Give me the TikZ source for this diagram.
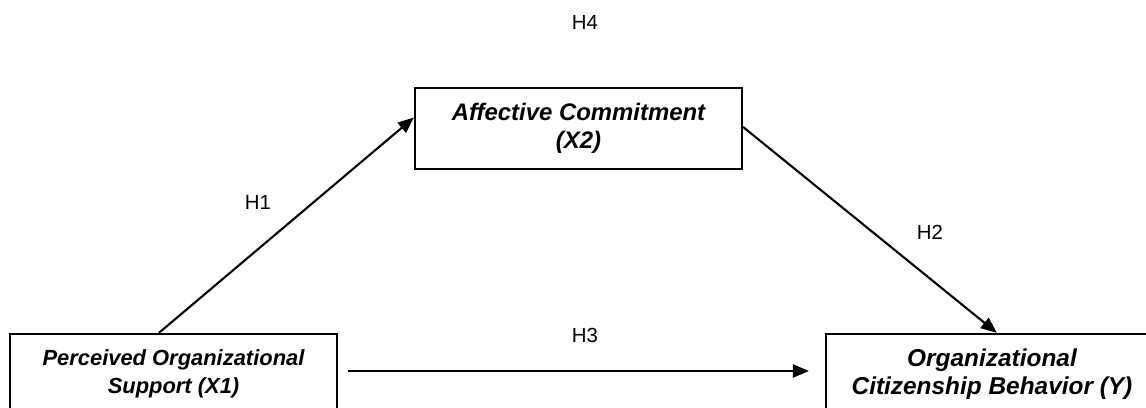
\documentclass[tikz,border=0pt]{standalone}
\usepackage{fontspec}
\setmainfont{Liberation Sans}
\usetikzlibrary{arrows.meta}
\begin{document}
\begin{tikzpicture}[x=1bp,y=-1bp,
  box/.style={draw, line width=2.2bp, align=center, inner sep=0pt},
  boxfont/.style={font=\fontsize{#1}{27.5}\selectfont\bfseries\itshape},
  conn/.style={line width=2.1bp, -{Triangle[length=16bp,width=13bp]}},
  lab/.style={font=\fontsize{20.5}{24}\selectfont, inner sep=0pt}]
\useasboundingbox (0,0) rectangle (1146,407);
\clip (0,0) rectangle (1146,407);
\node[box, boxfont=22, minimum width=327bp, minimum height=80bp] (L) at (173.5,374) {Perceived Organizational\\Support (X1)};
\node[box, boxfont=24, minimum width=327bp, minimum height=81bp] (A) at (578.5,128.5) {Affective Commitment\\(X2)};
\node[box, boxfont=24.5, minimum width=332bp, minimum height=80bp] (R) at (992,374) {Organizational\\Citizenship Behavior (Y)};
\coordinate (h1s) at ([xshift=150bp]L.north west);
\coordinate (h1e) at ([yshift=11bp]A.west);
\coordinate (h2s) at ([yshift=1.5bp]A.east);
\coordinate (h2e) at ([xshift=172bp]R.north west);
\coordinate (h3s) at (348,371);
\coordinate (h3e) at (h3s -| R.west);
\draw[conn] (h1s) -- (h1e);
\draw[conn] (h2s) -- (h2e);
\draw[conn, shorten >=16bp] (h3s) -- (h3e);
\node[lab] (H4) at (585,22) {H4};
\node[lab] (H1) at (258,202) {H1};
\node[lab] (H2) at (930,232) {H2};
\node[lab] (H3) at (585,335) {H3};
\end{tikzpicture}
\end{document}
